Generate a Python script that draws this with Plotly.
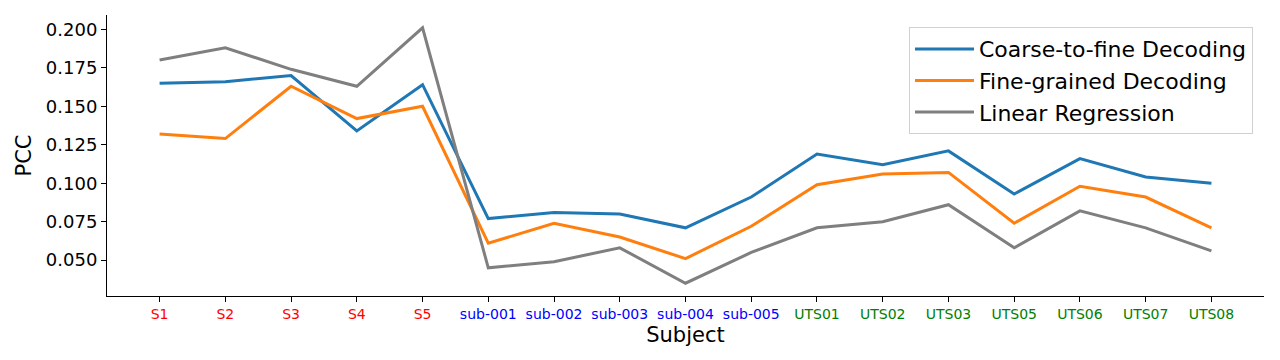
import plotly.graph_objects as go

# Subjects, grouped by dataset (each group gets its own tick label colour)
subjects = ["S1", "S2", "S3", "S4", "S5",
            "sub-001", "sub-002", "sub-003", "sub-004", "sub-005",
            "UTS01", "UTS02", "UTS03", "UTS05", "UTS06", "UTS07", "UTS08"]
subject_colors = ["red"] * 5 + ["blue"] * 5 + ["green"] * 7

# PCC per subject
coarse_to_fine = [0.165, 0.166, 0.170, 0.134, 0.164,
                  0.077, 0.081, 0.080, 0.071, 0.091,
                  0.119, 0.112, 0.121, 0.093, 0.116, 0.104, 0.100]
fine_grained = [0.132, 0.129, 0.163, 0.142, 0.150,
                0.061, 0.074, 0.065, 0.051, 0.072,
                0.099, 0.106, 0.107, 0.074, 0.098, 0.091, 0.071]
linear_regression = [0.180, 0.188, 0.174, 0.163, 0.201,
                     0.045, 0.049, 0.058, 0.035, 0.055,
                     0.071, 0.075, 0.086, 0.058, 0.082, 0.071, 0.056]

series = [
    ("Coarse-to-fine Decoding", coarse_to_fine, "#1f77b4"),
    ("Fine-grained Decoding", fine_grained, "#ff7f0e"),
    ("Linear Regression", linear_regression, "#7f7f7f"),
]

fig = go.Figure()
for name, values, color in series:
    fig.add_trace(go.Scatter(
        x=subjects,
        y=values,
        name=name,
        mode="lines",
        line=dict(color=color, width=3),
    ))

# all values, to pad the y range like matplotlib's 5% margin
all_vals = coarse_to_fine + fine_grained + linear_regression
lo, hi = min(all_vals), max(all_vals)
pad = (hi - lo) * 0.05

tick_text = [f'<span style="color:{c}">{s}</span>' for s, c in zip(subjects, subject_colors)]

# the page body adds an 8px offset, so margins are shifted to compensate
fig.update_layout(
    width=1280,
    height=360,
    margin=dict(l=99, r=24, t=7, b=72),
    plot_bgcolor="white",
    paper_bgcolor="white",
    font=dict(family="DejaVu Sans", color="black"),
    legend=dict(
        x=0.9905, y=0.957, xanchor="right", yanchor="top",
        font=dict(size=22),
        itemwidth=59,
        bordercolor="#d0d0d0", borderwidth=1, bgcolor="white",
    ),
    xaxis=dict(
        type="category",
        automargin=False,
        range=[-0.8, len(subjects) - 0.2],
        tickmode="array",
        tickvals=subjects,
        ticktext=tick_text,
        tickfont=dict(size=14),
        showline=True, linecolor="black", linewidth=1,
        ticks="outside", ticklen=5, tickcolor="black",
        showgrid=False, zeroline=False,
        title=dict(text="Subject", font=dict(size=21), standoff=6),
    ),
    yaxis=dict(
        automargin=False,
        range=[lo - pad, hi + pad],
        tickvals=[0.050, 0.075, 0.100, 0.125, 0.150, 0.175, 0.200],
        tickformat=".3f",
        tickfont=dict(size=18),
        showline=True, linecolor="black", linewidth=1,
        ticks="outside", ticklen=5, tickcolor="black",
        showgrid=False, zeroline=False,
        title=dict(text="PCC", font=dict(size=21), standoff=8),
    ),
)

fig.write_html("out.html")
